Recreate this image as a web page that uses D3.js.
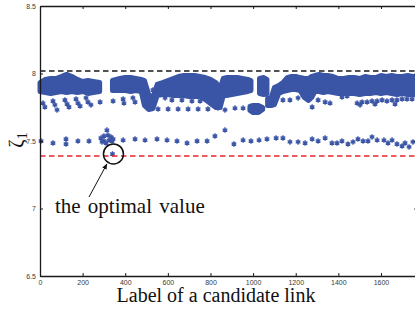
<!DOCTYPE html>
<html>
<head>
<meta charset="utf-8">
<script src="https://cdn.jsdelivr.net/npm/d3@7"></script>
<style>
    html, body { margin: 0; padding: 0; background: #fff; }
    svg { display: block; }
</style>
</head>
<body>
<svg id="chart" width="415" height="310"></svg>
<script>
// tick values
var xTicks = [0, 200, 400, 600, 800, 1000, 1200, 1400, 1600];
var yTicks = [6.5, 7, 7.5, 8, 8.5];

// reference levels
var upperBound = 8.019;
var optimalLevel = 7.389;

// dense band of candidate links (envelope of marker centres), null = gap
var bandU = [0, 25, 50, 75, 100, 125, 150, 175, 200, 225, 250, 280, null,
    340, 375, 400, 425, 450, 475, 490, 510, 530, 550, 575, 600, 625, 650, 675, 700, 725, 750, 775, 800, 825, 845, 860, 875, 900, 925, 950, 975, 990, null,
    985, 1000, 1025, 1045, null,
    1030, 1050, 1065, null,
    1068, 1085, 1100, 1120, 1140, 1160, 1180, 1200, 1220, 1240, 1260, 1275, 1290, 1310, 1330, 1350, 1375, 1400, 1425, 1450, 1475, 1500, 1525, 1550, 1575, 1600, 1625, 1650, 1675, 1700, 1725, 1750, 1775];
var bandTop = [7.933, 7.956, 7.963, 7.963, 7.978, 7.993, 7.978, 7.956, 7.941, 7.948, 7.941, 7.933, null,
    7.948, 7.963, 7.970, 7.970, 7.963, 7.956, 7.948, 7.844, 7.822, 7.919, 7.933, 7.948, 7.963, 7.978, 7.985, 7.985, 7.985, 7.978, 7.970, 7.956, 7.933, 7.889, 7.963, 7.970, 7.970, 7.970, 7.963, 7.956, 7.948, null,
    7.756, 7.763, 7.763, 7.748, null,
    7.963, 7.970, 7.956, null,
    7.815, 7.822, 7.896, 7.911, 7.933, 7.970, 7.978, 7.978, 7.970, 7.963, 7.963, 7.978, 7.985, 7.993, 7.985, 7.985, 7.978, 7.963, 7.963, 7.970, 7.970, 7.963, 7.978, 7.970, 7.970, 7.985, 7.978, 7.985, 7.978, 7.978, 7.985, 7.978, 7.978];
var bandBot = [7.867, 7.859, 7.852, 7.859, 7.867, 7.859, 7.867, 7.859, 7.867, 7.852, 7.859, 7.867, null,
    7.874, 7.874, 7.874, 7.867, 7.874, 7.867, 7.763, 7.733, 7.741, 7.837, 7.844, 7.844, 7.837, 7.837, 7.837, 7.830, 7.830, 7.830, 7.807, 7.778, 7.748, 7.748, 7.837, 7.837, 7.844, 7.852, 7.859, 7.867, 7.874, null,
    7.726, 7.711, 7.711, 7.733, null,
    7.852, 7.844, 7.852, null,
    7.763, 7.763, 7.770, 7.852, 7.867, 7.874, 7.881, 7.881, 7.874, 7.822, 7.800, 7.822, 7.867, 7.867, 7.859, 7.867, 7.859, 7.852, 7.852, 7.852, 7.852, 7.844, 7.852, 7.852, 7.859, 7.852, 7.859, 7.852, 7.844, 7.852, 7.844, 7.844, 7.844];

// stray points under the band (around 7.75 - 7.83)
var upperDots = [[14, 7.781], [23, 7.752], [61, 7.796], [70, 7.767], [80, 7.730], [117, 7.804], [127, 7.774], [136, 7.752],
    [169, 7.811], [178, 7.781], [188, 7.759], [216, 7.819], [225, 7.789], [239, 7.767], [282, 7.789], [343, 7.796],
    [390, 7.811], [394, 7.781], [436, 7.819], [446, 7.789],
    [554, 7.737], [601, 7.737], [648, 7.737], [695, 7.737], [742, 7.737], [788, 7.737], [835, 7.744], [868, 7.730], [915, 7.744], [953, 7.744],
    [530, 7.878], [587, 7.819], [619, 7.804], [666, 7.804], [713, 7.796], [751, 7.796],
    [1140, 7.804], [1173, 7.804], [1211, 7.819], [1277, 7.752], [1305, 7.804], [1338, 7.789], [1361, 7.781], [1417, 7.826], [1441, 7.833],
    [1488, 7.781], [1511, 7.789], [1535, 7.789], [1558, 7.796], [1582, 7.796], [1605, 7.804], [1628, 7.796], [1652, 7.804], [1675, 7.804],
    [1699, 7.811], [1722, 7.811], [1746, 7.811], [1502, 7.767], [1572, 7.774], [1666, 7.774]];

// lower row (around 7.5)
var lowerDots = [[5, 7.500], [61, 7.485], [122, 7.515], [122, 7.478], [178, 7.500], [230, 7.500], [314, 7.581],
    [286, 7.522], [300, 7.537], [319, 7.544], [333, 7.530], [300, 7.500], [324, 7.507], [338, 7.500], [291, 7.493], [343, 7.515], [310, 7.485],
    [390, 7.507], [446, 7.515], [493, 7.507], [549, 7.515],
    [596, 7.507], [643, 7.500], [690, 7.485], [737, 7.500], [784, 7.500], [821, 7.537], [868, 7.581], [910, 7.478], [953, 7.507],
    [990, 7.500], [1028, 7.507], [1065, 7.515], [1108, 7.522], [1140, 7.522],
    [1173, 7.493], [1211, 7.493], [1244, 7.485], [1277, 7.515], [1305, 7.500], [1338, 7.522], [1370, 7.485], [1394, 7.485], [1417, 7.500],
    [1445, 7.478], [1469, 7.493], [1492, 7.515], [1516, 7.500], [1539, 7.500], [1558, 7.530], [1582, 7.507], [1614, 7.507], [1633, 7.485],
    [1652, 7.507], [1675, 7.478], [1699, 7.463], [1713, 7.485], [1732, 7.456], [1750, 7.493]];

var optimal = [340, 7.404];

var blue = "#3a54a6";
var svg = d3.select("#chart");

var x = d3.scaleLinear().domain([0, 1770]).range([40, 417.2]);
var y = d3.scaleLinear().domain([6.5, 8.5]).range([276, 6]);

// dense band
var band = bandU.map(function (u, i) { return {u: u, top: bandTop[i], bot: bandBot[i]}; });
var area = d3.area()
    .defined(function (d) { return d.top != null; })
    .x(function (d) { return x(d.u); })
    .y0(function (d) { return y(d.bot); })
    .y1(function (d) { return y(d.top); });
svg.append("path")
    .datum(band)
    .attr("d", area)
    .attr("fill", blue)
    .attr("stroke", blue)
    .attr("stroke-width", 5)
    .attr("stroke-linejoin", "round");

// asterisk markers (small, drawn over a dot so they read as solid blobs)
var star = d3.symbol().type(d3.symbolAsterisk).size(20);
var dots = svg.append("g").selectAll("g")
    .data(upperDots.concat(lowerDots, [optimal]))
    .enter().append("g")
    .attr("transform", function (d) { return "translate(" + x(d[0]) + "," + y(d[1]) + ")"; });
dots.append("circle").attr("r", 1.6).attr("fill", blue);
dots.append("path")
    .attr("d", star)
    .attr("fill", "none")
    .attr("stroke", blue)
    .attr("stroke-width", 1.3);

// dashed reference lines
svg.append("line")
    .attr("x1", x(0)).attr("x2", x(1770))
    .attr("y1", y(upperBound)).attr("y2", y(upperBound))
    .attr("stroke", "#1a1a1a").attr("stroke-width", 1.5)
    .attr("stroke-dasharray", "5.5,3.5");
svg.append("line")
    .attr("x1", x(0)).attr("x2", x(1770))
    .attr("y1", y(optimalLevel)).attr("y2", y(optimalLevel))
    .attr("stroke", "#e8262c").attr("stroke-width", 1.5)
    .attr("stroke-dasharray", "5.5,3.5");

// axes box, ticks pointing inward
function styleAxis(g) {
    g.select(".domain").attr("stroke", "#1a1a1a").attr("stroke-width", 1.3);
    g.selectAll(".tick line").attr("stroke", "#1a1a1a").attr("stroke-width", 1);
    g.selectAll("text").attr("fill", "#3a3a3a")
        .style("font-family", "'Liberation Sans', Arial, sans-serif")
        .style("font-size", "7px");
}
svg.append("g").attr("transform", "translate(0,276)")
    .call(d3.axisBottom(x).tickValues(xTicks).tickSizeInner(-3).tickSizeOuter(0).tickPadding(4).tickFormat(d3.format("d")))
    .call(styleAxis);
svg.append("g").attr("transform", "translate(0,6)")
    .call(d3.axisTop(x).tickValues(xTicks).tickSizeInner(-3).tickSizeOuter(0).tickFormat(""))
    .call(styleAxis);
svg.append("g").attr("transform", "translate(40,0)")
    .call(d3.axisLeft(y).tickValues(yTicks).tickSizeInner(-3).tickSizeOuter(0).tickPadding(4).tickFormat(function (d) { return String(d); }))
    .call(styleAxis);
svg.append("g").attr("transform", "translate(" + x(1770) + ",0)")
    .call(d3.axisRight(y).tickValues(yTicks).tickSizeInner(-3).tickSizeOuter(0).tickFormat(""))
    .call(styleAxis);

// axis titles
var serif = "'Liberation Serif', 'Times New Roman', serif";
svg.append("text")
    .attr("x", 216).attr("y", 302)
    .attr("text-anchor", "middle")
    .style("font-family", serif).style("font-size", "20px")
    .attr("fill", "#111")
    .text("Label of a candidate link");
var yl = svg.append("text")
    .attr("transform", "translate(23,140) rotate(-90)")
    .attr("text-anchor", "middle")
    .style("font-family", serif).style("font-size", "20px")
    .attr("fill", "#111");
yl.append("tspan").text("\u03b6");
yl.append("tspan").attr("dy", 4).style("font-size", "14px").text("1");

// annotation: circle, arrow and label
var cx = x(optimal[0]), cy = y(optimal[1]);
svg.append("circle")
    .attr("cx", cx + 1).attr("cy", cy).attr("r", 10)
    .attr("fill", "none").attr("stroke", "#111").attr("stroke-width", 1.5);

svg.append("defs").append("marker")
    .attr("id", "head").attr("viewBox", "0 0 10 10")
    .attr("refX", 9).attr("refY", 5)
    .attr("markerWidth", 6).attr("markerHeight", 6)
    .attr("markerUnits", "userSpaceOnUse")
    .attr("orient", "auto")
    .append("path").attr("d", "M0,1L10,5L0,9Z").attr("fill", "#111");
svg.append("line")
    .attr("x1", x(230)).attr("y1", y(7.085))
    .attr("x2", x(314)).attr("y2", y(7.330))
    .attr("stroke", "#111").attr("stroke-width", 1)
    .attr("marker-end", "url(#head)");
svg.append("text")
    .attr("x", x(70)).attr("y", y(6.967))
    .style("font-family", serif).style("font-size", "21px")
    .style("word-spacing", "2px")
    .attr("fill", "#111")
    .text("the optimal value");
</script>
</body>
</html>
